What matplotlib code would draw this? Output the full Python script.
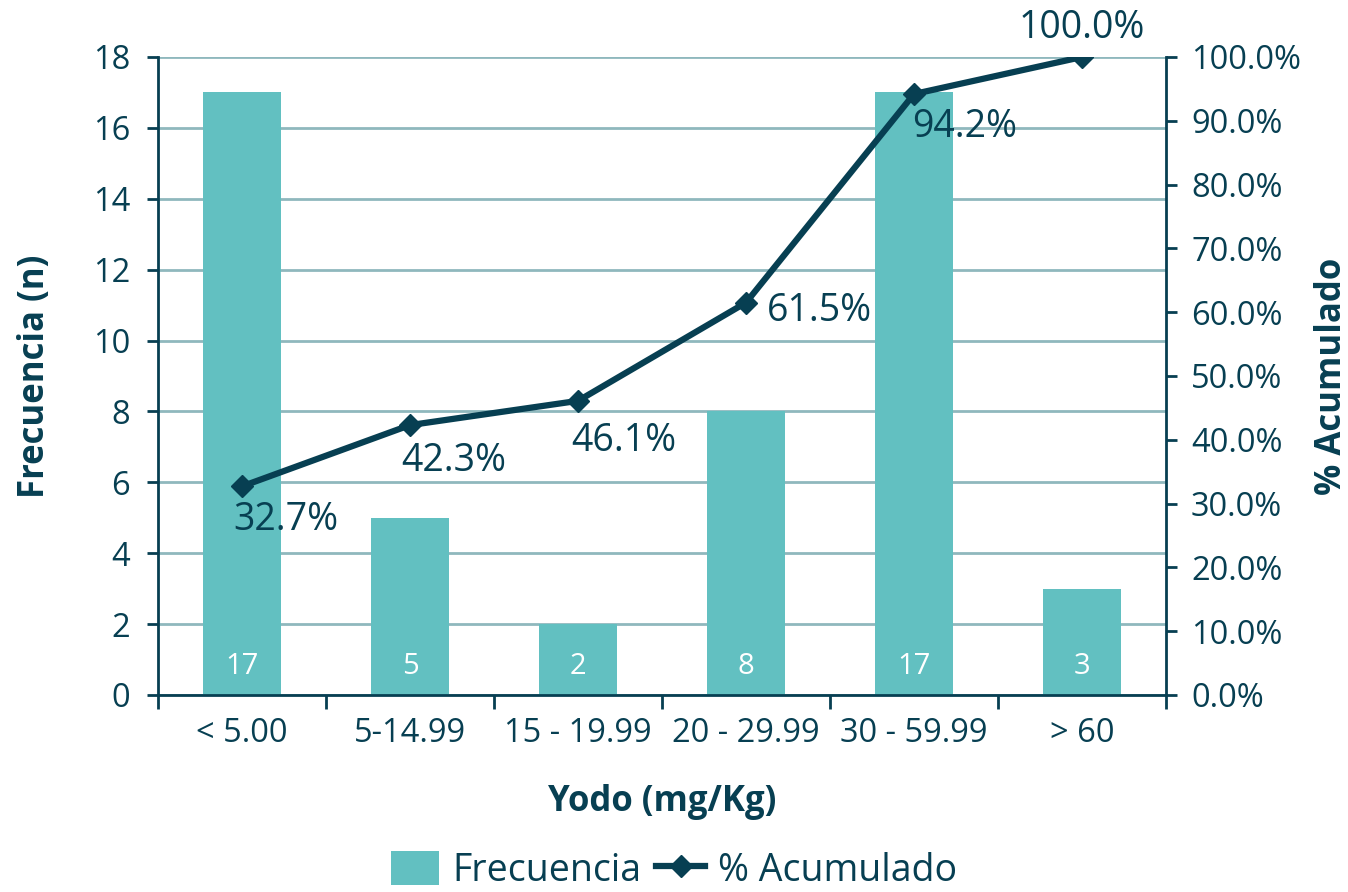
import matplotlib
matplotlib.use("Agg")
import matplotlib.pyplot as plt
from matplotlib.lines import Line2D
from matplotlib.patches import Patch

categories = ["< 5.00", "5-14.99", "15 - 19.99", "20 - 29.99", "30 - 59.99", "> 60"]
frecuencia = [17, 5, 2, 8, 17, 3]
acumulado = [32.7, 42.3, 46.1, 61.5, 94.2, 100.0]
left_ticks = [0, 2, 4, 6, 8, 10, 12, 14, 16, 18]
right_ticks = [0, 10, 20, 30, 40, 50, 60, 70, 80, 90, 100]

# label offsets (points) from each cumulative marker
pct_offsets = [(-6, -24), (-6, -26), (-5, -29), (15, -6), (-1, -24), (0, 21)]
pct_align = ["left", "left", "left", "left", "left", "center"]

DARK = "#073f52"
BAR = "#62c0c1"
GRID = "#8fb8bd"

plt.rcParams["font.family"] = ["Open Sans", "DejaVu Sans"]

fig = plt.figure(figsize=(13.48, 8.92), dpi=100)
ax = fig.add_axes([0.1172, 0.2209, 0.7478, 0.7152])
x = list(range(len(categories)))

ax.bar(x, frecuencia, width=0.46, color=BAR, zorder=2)
ax.set_xlim(-0.5, len(categories) - 0.5)
ax.set_ylim(0, 18)
ax.set_yticks(left_ticks)
ax.yaxis.grid(True, color=GRID, linewidth=2, zorder=0)
ax.set_axisbelow(True)

for xi, v in zip(x, frecuencia):
    ax.text(xi, 0.8, str(v), ha="center", va="center", color="white", fontsize=21, zorder=3)

ax.set_xticks(x)
ax.set_xticklabels(categories)
ax.set_xticks([i - 0.5 for i in range(len(categories) + 1)], minor=True)
ax.tick_params(axis="x", which="major", length=0, pad=16, labelsize=23.5, labelcolor=DARK)
ax.tick_params(axis="x", which="minor", length=10, width=2, color=DARK, direction="out")
ax.tick_params(axis="y", length=8, width=2, color=DARK, labelsize=23.5, labelcolor=DARK, pad=12)

for side in ["top", "right"]:
    ax.spines[side].set_visible(False)
for side in ["left", "bottom"]:
    ax.spines[side].set_color(DARK)
    ax.spines[side].set_linewidth(2)

ax.set_xlabel("Yodo (mg/Kg)", fontsize=25, fontweight="bold", color=DARK, labelpad=24)
ax.set_ylabel("Frecuencia (n)", fontsize=25, fontweight="bold", color=DARK, labelpad=29)

ax2 = ax.twinx()
ax2.plot(x, acumulado, color=DARK, linewidth=4.5, marker="D", markersize=11, zorder=4)
ax2.set_ylim(0, 100)
ax2.set_yticks(right_ticks)
ax2.set_yticklabels([f"{t:.1f}%" for t in right_ticks])
ax2.tick_params(axis="y", length=8, width=2, color=DARK, labelsize=23.5, labelcolor=DARK, pad=10)
for side in ["top", "left", "bottom"]:
    ax2.spines[side].set_visible(False)
ax2.spines["right"].set_color(DARK)
ax2.spines["right"].set_linewidth(2)
ax2.set_ylabel("% Acumulado", fontsize=25, fontweight="bold", color=DARK, labelpad=9)

for xi, v, off, ha in zip(x, acumulado, pct_offsets, pct_align):
    ax2.annotate(f"{v:.1f}%", (xi, v), xytext=off, textcoords="offset points",
                 ha=ha, va="center", fontsize=27, color=DARK, zorder=5,
                 annotation_clip=False)

handles = [Patch(facecolor=BAR, edgecolor="none"),
           Line2D([0], [0], color=DARK, linewidth=4.5, marker="D", markersize=11)]
fig.legend(handles, ["Frecuencia", "% Acumulado"], loc="center", bbox_to_anchor=(0.5, 0.024),
           ncol=2, frameon=False, fontsize=27, labelcolor=DARK, handlelength=1.3,
           handleheight=1.0, handletextpad=0.35, columnspacing=0.4)

fig.savefig("out.png", dpi=100)
